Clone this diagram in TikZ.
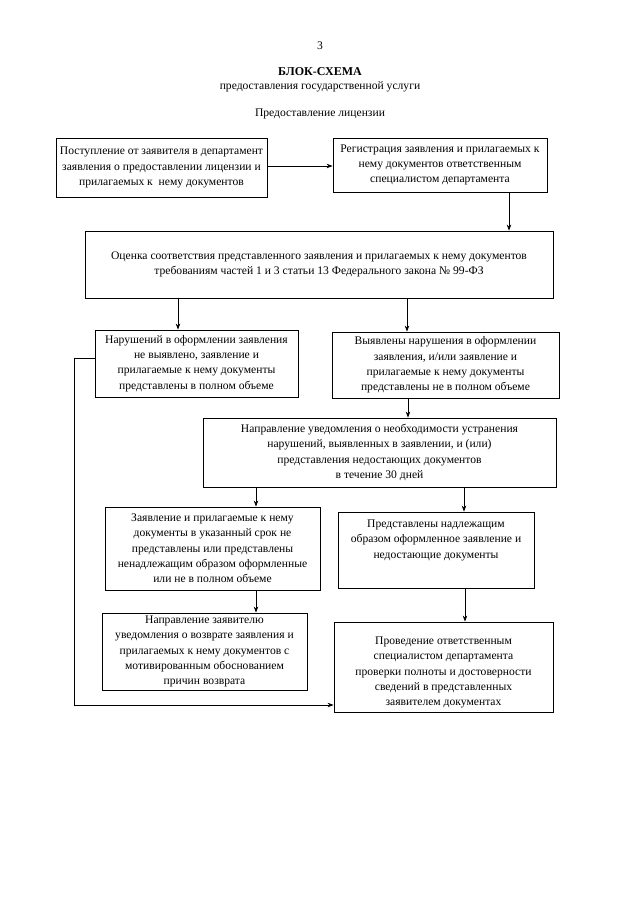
\documentclass[tikz,border=0pt]{standalone}
\usepackage{fontspec}
\setmainfont{Liberation Serif}
\usetikzlibrary{arrows.meta}
\tikzset{
  blok/.style    = {draw, black, line width=0.9pt, align=center, inner sep=2pt,
                    font=\fontsize{11.6}{15.3}\selectfont},
  strelka/.style = {-{Stealth[length=6pt, width=4.5pt]}, black, line width=0.6pt},
  zagl/.style    = {font=\fontsize{11.6}{15}\selectfont}
}

\begin{document}
\begin{tikzpicture}[x=1pt, y=-1pt]
  \useasboundingbox (0,0) rectangle (640,905);

  % заголовок
  \node[zagl] (nomer) at (320,46) {3};
  \node[zagl, font=\fontsize{12}{15}\selectfont\bfseries] (zag) at (320,72) {БЛОК-СХЕМА};
  \node[zagl] (podzag) at (320,87) {предоставления государственной услуги};
  \node[zagl] (usl) at (320,114) {Предоставление лицензии};

  % блоки
  \node[blok, minimum width=211, minimum height=59] (post) at (161.5,167.5)
    {Поступление от заявителя в департамент\\ заявления о предоставлении лицензии и\\ прилагаемых к~ нему документов};
  \node[blok, minimum width=214, minimum height=54] (reg) at (440,165)
    {Регистрация заявления и прилагаемых к\\ нему документов ответственным\\ специалистом департамента};
  \node[blok, minimum width=468, minimum height=67] (ots) at (319,264.5)
    {Оценка соответствия представленного заявления и прилагаемых к нему документов\\ требованиям частей 1 и 3 статьи 13 Федерального закона № 99-ФЗ};
  \node[blok, minimum width=203, minimum height=67] (nar) at (196.5,363.5)
    {Нарушений в оформлении заявления\\ не выявлено, заявление и\\ прилагаемые к нему документы\\ представлены в полном объеме};
  \node[blok, minimum width=227, minimum height=66] (vyy) at (445.5,365)
    {Выявлены нарушения в оформлении\\ заявления, и/или заявление и\\ прилагаемые к нему документы\\ представлены не в полном объеме};
  \node[blok, minimum width=353, minimum height=69] (uved) at (379.5,452.5)
    {Направление уведомления о необходимости устранения\\ нарушений, выявленных в заявлении, и (или)\\ представления недостающих документов\\ в течение 30 дней};
  \node[blok, minimum width=215, minimum height=83] (nepr) at (212.5,548.5)
    {Заявление и прилагаемые к нему\\ документы в указанный срок не\\ представлены или представлены\\ ненадлежащим образом оформленные\\ или не в полном объеме};
  \node[blok, minimum width=196, minimum height=76, text depth=22pt] (pred) at (436,550)
    {Представлены надлежащим\\ образом оформленное заявление и\\ недостающие документы};
  \node[blok, minimum width=205, minimum height=77] (vozv) at (204.5,651.5)
    {Направление заявителю\\ уведомления о возврате заявления и\\ прилагаемых к нему документов с\\ мотивированным обоснованием\\ причин возврата};
  \node[blok, minimum width=219, minimum height=90, text height=80pt] (prov) at (443.5,667)
    {Проведение ответственным\\ специалистом департамента\\ проверки полноты и достоверности\\ сведений в представленных\\ заявителем документах};

  % стрелки
  \draw[strelka] (post.east |- 0,166) -- (reg.west |- 0,166);
  \draw[strelka] (reg.south -| 509,0) -- (ots.north -| 509,0);
  \draw[strelka] (ots.south -| 178,0) -- (nar.north -| 178,0);
  \draw[strelka] (ots.south -| 407,0) -- (vyy.north -| 407,0);
  \draw[strelka] (vyy.south -| 408,0) -- (uved.north -| 408,0);
  \draw[strelka] (uved.south -| 256,0) -- (nepr.north -| 256,0);
  \draw[strelka] (uved.south -| 464,0) -- (pred.north -| 464,0);
  \draw[strelka] (nepr.south -| 256,0) -- (vozv.north -| 256,0);
  \draw[strelka] (pred.south -| 465,0) -- (prov.north -| 465,0);

  % обходная линия
  \coordinate (obh) at (74,705);
  \draw[strelka] (nar.west |- 0,358) -| (obh) -- (prov.west |- obh);
\end{tikzpicture}
\end{document}
